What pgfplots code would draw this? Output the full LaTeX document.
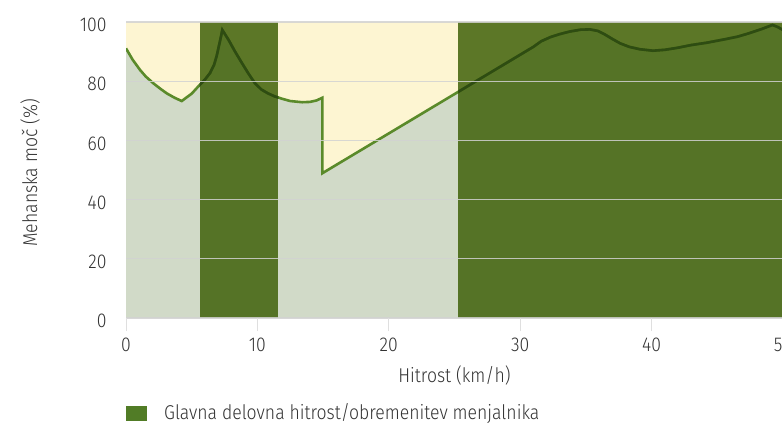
\documentclass[border=0pt]{standalone}
\usepackage{fontspec}
\setmainfont{Fira Sans Light}[FakeStretch=0.88]
\usepackage{pgfplots}
\pgfplotsset{compat=1.18}
\usepackage{pgfplotstable}
\definecolor{cream}{HTML}{FDF5D2}
\definecolor{lightgg}{HTML}{D1DAC8}
\definecolor{linegreen}{HTML}{5A8A2A}
\definecolor{bandgreen}{HTML}{40620A}
\definecolor{darkline}{HTML}{2E4C12}
\definecolor{txt}{HTML}{333333}
\pgfplotstableread{
x y
0 91.1
0.5 87.3
1.07 83.8
1.5 81.6
2.08 79.3
2.6 77.5
3.1 75.9
3.7 74.4
4.24 73.3
5.0 75.8
5.6 78.7
6.0 80.5
6.4 82.8
6.7 85.5
6.9 88.5
7.05 91.5
7.2 94.5
7.33 97.3
7.8 94.0
8.3 90.0
8.8 86.3
9.3 82.7
9.8 79.4
10.3 77.2
10.8 75.9
11.3 74.9
11.85 74.1
12.5 73.3
13.4 72.9
14.0 73.0
14.5 73.5
14.94 74.4
14.94 48.9
31.0 91.6
31.6 93.5
32.3 94.9
33.0 95.9
33.8 96.8
34.6 97.4
35.3 97.5
35.9 97.0
36.4 95.9
37.0 94.3
37.6 92.8
38.3 91.6
39.1 90.8
40.1 90.3
41.0 90.6
42.0 91.3
43.0 92.2
44.2 93.0
45.5 94.1
46.5 95.0
47.2 95.9
48.3 97.5
49.2 99.0
49.6 98.3
50.0 97.3
}\curve
\begin{document}
\begin{tikzpicture}[x=1pt,y=1pt]
\useasboundingbox[fill=white] (0,0) rectangle (782,426);
\begin{axis}[
  at={(126pt,108pt)}, anchor=south west,
  scale only axis, width=657pt, height=296pt,
  xmin=0, xmax=50, ymin=0, ymax=100,
  xtick={0,10,...,50}, ytick={0,20,...,100},
  axis line style={draw=none},
  ymajorgrids, grid style={draw=gray!35, line width=1.2pt, opacity=0.85},
  axis on top,
  tick pos=left, tick align=outside,
  xtick style={draw=gray!25, line width=1pt},
  major tick length=13pt,
  ytick style={draw=none},
  axis background/.style={fill=cream},
  tick label style={font=\fontsize{20}{22}\selectfont, text=txt, /pgf/number format/assume math mode=true},
  xticklabel style={yshift=-3pt},
  yticklabel style={xshift=-3pt, yshift=-3pt},
  label style={font=\fontsize{20}{22}\selectfont, text=txt},
  xlabel={Hitrost (km/h)},
  ylabel={Mehanska moč (\%)},
  xlabel style={yshift=-8pt},
  ylabel style={at={(axis description cs:-0.146,0.49)}, anchor=center},
  clip=true,
]
\addplot[fill=lightgg, draw=none] table[x=x,y=y]{\curve} \closedcycle;
\addplot[linegreen, line width=2.6pt, line join=miter] table[x=x,y=y]{\curve};
\addplot[fill=bandgreen, fill opacity=0.85, draw=none] coordinates {(5.6,100) (11.6,100)} \closedcycle;
\addplot[fill=bandgreen, fill opacity=0.85, draw=none] coordinates {(25.3,100) (50,100)} \closedcycle;
\begin{scope}
\clip (axis cs:5.6,0) rectangle (axis cs:11.6,100) (axis cs:25.3,0) rectangle (axis cs:50,100);
\addplot[darkline, line width=2.6pt, line join=miter] table[x=x,y=y]{\curve};
\end{scope}
\end{axis}
\fill[color=linegreen!90!black] (126,5) rectangle (147,20);
\node[anchor=west, font=\fontsize{20}{22}\selectfont, text=txt, inner sep=0pt] at (164,12.5) {Glavna delovna hitrost/obremenitev menjalnika};
\end{tikzpicture}
\end{document}
